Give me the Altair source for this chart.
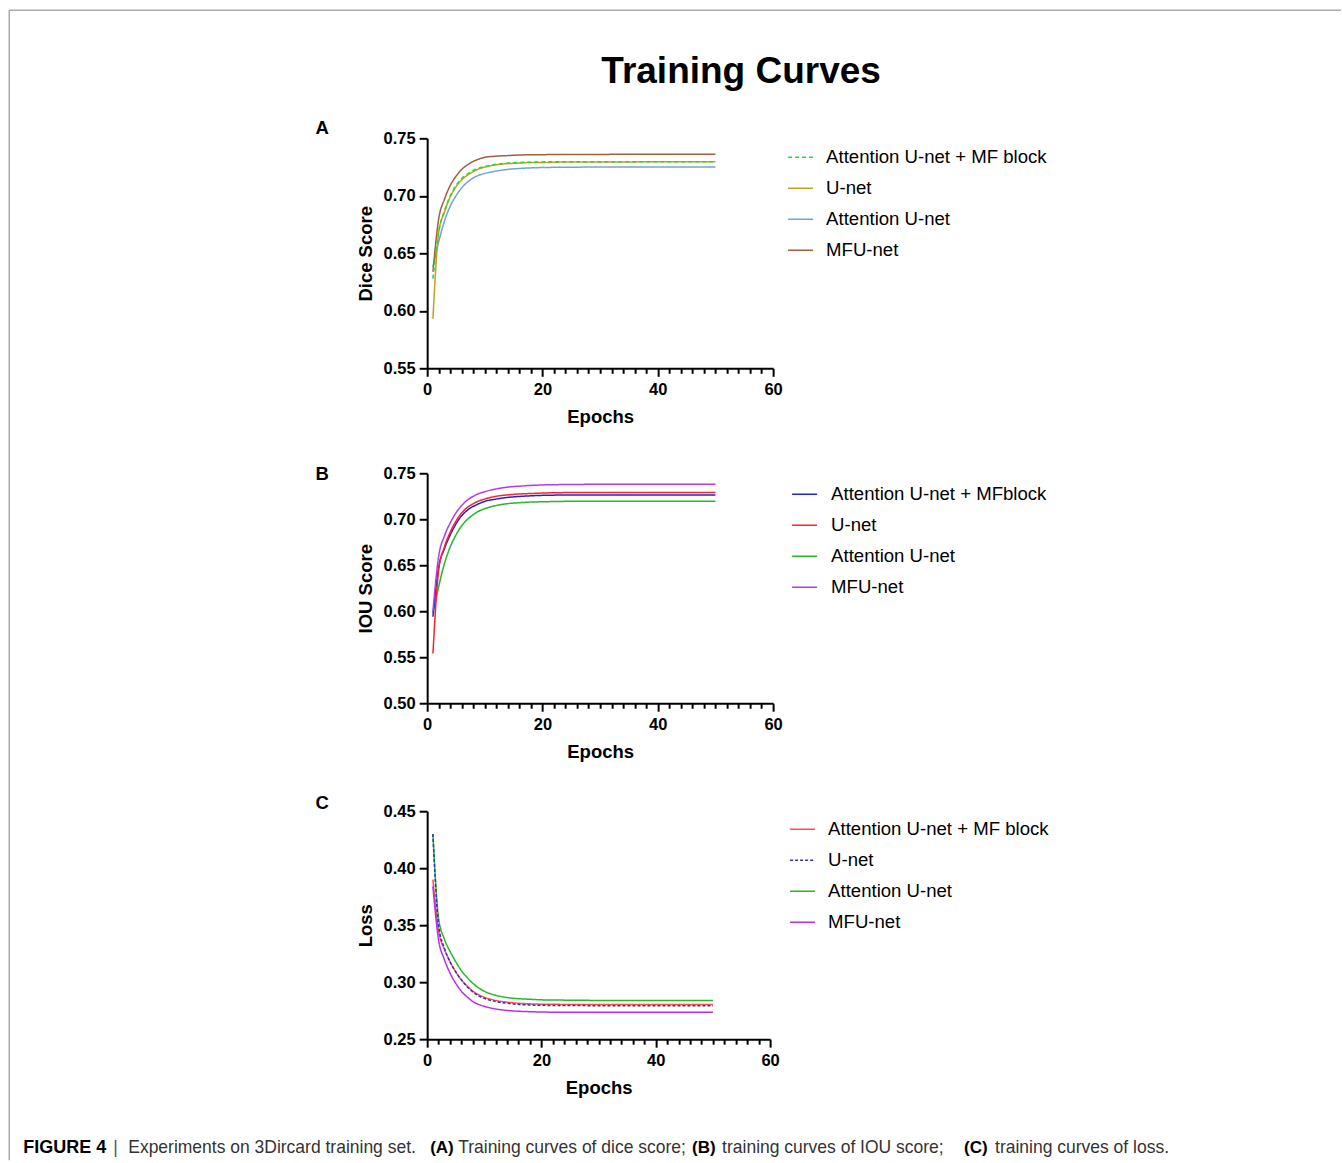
import altair as alt
import pandas as pd

FONT = "Liberation Sans"

# ---------------- data ----------------
epochs = [1, 2, 3, 4, 5, 6, 7, 8, 9, 10, 12, 14, 16, 18, 20, 25, 30, 35, 40, 45, 50]

# Panel A: Dice score
a_names = ["Attention U-net + MF block", "U-net", "Attention U-net", "MFU-net"]
a_attn_mf = [0.628, 0.669, 0.687, 0.700, 0.709, 0.715, 0.719, 0.722, 0.724, 0.7255, 0.7275,
             0.7285, 0.729, 0.7292, 0.7295, 0.7297, 0.7297, 0.7297, 0.7297, 0.7297, 0.7297]
a_unet = [0.593, 0.668, 0.686, 0.699, 0.708, 0.714, 0.718, 0.721, 0.7235, 0.725, 0.727,
          0.728, 0.7285, 0.729, 0.729, 0.7295, 0.7295, 0.7295, 0.7296, 0.7296, 0.7296]
a_attn = [0.638, 0.660, 0.678, 0.691, 0.700, 0.707, 0.712, 0.7155, 0.718, 0.7195, 0.7215,
          0.723, 0.7238, 0.7243, 0.7246, 0.7249, 0.725, 0.725, 0.725, 0.725, 0.725]
a_mfu = [0.634, 0.680, 0.697, 0.709, 0.717, 0.723, 0.727, 0.730, 0.732, 0.7335, 0.7345,
         0.735, 0.7355, 0.7357, 0.7358, 0.736, 0.736, 0.7362, 0.7362, 0.7361, 0.7361]
a_colors = ["#22dd22", "#c4a020", "#6fa3dc", "#a0603c"]

# Panel B: IOU score
b_names = ["Attention U-net + MFblock", "U-net", "Attention U-net", "MFU-net"]
b_attn_mf = [0.594, 0.648, 0.668, 0.683, 0.695, 0.704, 0.710, 0.714, 0.717, 0.7195, 0.722,
             0.7238, 0.7248, 0.7255, 0.726, 0.7264, 0.7265, 0.7265, 0.7265, 0.7265, 0.7265]
b_unet = [0.554, 0.645, 0.670, 0.686, 0.698, 0.707, 0.713, 0.717, 0.720, 0.722, 0.725,
          0.7265, 0.7275, 0.728, 0.7285, 0.729, 0.729, 0.729, 0.729, 0.729, 0.729]
b_attn = [0.598, 0.627, 0.652, 0.670, 0.683, 0.693, 0.700, 0.705, 0.709, 0.7115, 0.715,
          0.717, 0.718, 0.7187, 0.719, 0.7195, 0.7195, 0.7195, 0.7195, 0.7195, 0.7195]
b_mfu = [0.600, 0.660, 0.682, 0.696, 0.707, 0.715, 0.721, 0.725, 0.728, 0.730, 0.733,
         0.735, 0.736, 0.7368, 0.7373, 0.7378, 0.738, 0.738, 0.738, 0.738, 0.738]
b_colors = ["#2020dd", "#ff2222", "#22bb22", "#b23ce6"]

# Panel C: Loss
c_names = ["Attention U-net + MF block", "U-net", "Attention U-net", "MFU-net"]
c_attn_mf = [0.390, 0.345, 0.329, 0.318, 0.309, 0.302, 0.2965, 0.292, 0.289, 0.2868, 0.284,
             0.2825, 0.2815, 0.281, 0.2807, 0.2805, 0.2805, 0.2805, 0.2805, 0.2805, 0.2805]
c_unet = [0.430, 0.350, 0.330, 0.318, 0.309, 0.302, 0.296, 0.2915, 0.288, 0.2858, 0.283,
          0.2815, 0.2805, 0.280, 0.2797, 0.2795, 0.2794, 0.2794, 0.2794, 0.2794, 0.2794]
c_attn = [0.430, 0.356, 0.338, 0.327, 0.318, 0.310, 0.304, 0.299, 0.295, 0.292, 0.2885,
          0.2865, 0.2855, 0.285, 0.2845, 0.2842, 0.284, 0.284, 0.284, 0.284, 0.284]
c_mfu = [0.384, 0.337, 0.320, 0.308, 0.299, 0.292, 0.287, 0.283, 0.2805, 0.2788, 0.2765,
         0.2752, 0.2745, 0.2741, 0.2738, 0.2736, 0.2736, 0.2736, 0.2736, 0.2736, 0.2736]
c_colors = ["#ff4d4d", "#2f2fcc", "#22bb22", "#bb2bee"]

x_ticks = list(range(0, 61, 2))


def text_layer(txt, x, y, size, weight="bold", align="left", color="black"):
    return alt.Chart(pd.DataFrame({"t": [txt]})).mark_text(
        font=FONT, fontSize=size, fontWeight=weight, align=align,
        baseline="middle", color=color
    ).encode(text="t:N", x=alt.value(x), y=alt.value(y))


def panel(names, series, order, colors, dashes, ydom, yticks, ytitle, width, height,
          yrange, legend_x, legend_y, label_offset, extras):
    rows = []
    for name in order:
        for e, v in zip(epochs, series[name]):
            rows.append({"Epoch": e, "Value": v, "Model": name})
    df = pd.DataFrame(rows)
    leg = alt.Legend(
        title=None, orient="none", legendX=legend_x, legendY=legend_y,
        symbolType="stroke", symbolSize=625, symbolStrokeWidth=1.5,
        labelFont=FONT, labelFontSize=18.6, labelColor="black", labelLimit=0,
        labelOffset=label_offset, rowPadding=7, padding=0,
    )
    yscale = alt.Scale(domain=ydom, nice=False, zero=False)
    if yrange is not None:
        yscale = alt.Scale(domain=ydom, nice=False, zero=False, range=yrange)
    lines = alt.Chart(df).mark_line(strokeWidth=1.5, interpolate="monotone").encode(
        x=alt.X("Epoch:Q", scale=alt.Scale(domain=[0, 60], nice=False),
                axis=alt.Axis(values=x_ticks, title="Epochs",
                              labelExpr="datum.value % 20 == 0 ? datum.label : ''",
                              tickSize={"condition": {"test": "datum.value % 20 == 0", "value": 8}, "value": 5},
                              labelFlush=False, labelOverlap=False,
                              labelPadding=5, titlePadding=10)),
        y=alt.Y("Value:Q", scale=yscale,
                axis=alt.Axis(values=yticks, format=".2f", title=ytitle,
                              tickSize=8, labelPadding=4, titlePadding=8)),
        color=alt.Color("Model:N", scale=alt.Scale(domain=names, range=colors), legend=leg),
        strokeDash=alt.StrokeDash("Model:N", scale=alt.Scale(domain=names, range=dashes), legend=leg),
        detail="Model:N",
    )
    return alt.layer(lines, *extras).properties(width=width, height=height)


solid = [1, 0]

# Frame rules, title, panel label for A
rule_df = pd.DataFrame({"k": [0]})
frame_top = alt.Chart(rule_df).mark_rule(color="#aaaaaa", strokeWidth=1.5).encode(
    x=alt.value(-418), x2=alt.value(914), y=alt.value(-128))
frame_left = alt.Chart(rule_df).mark_rule(color="#aaaaaa", strokeWidth=1.5).encode(
    x=alt.value(-418), y=alt.value(-128), y2=alt.value(1022))

panel_a = panel(
    a_names,
    {a_names[0]: a_attn_mf, a_names[1]: a_unet, a_names[2]: a_attn, a_names[3]: a_mfu},
    [a_names[2], a_names[3], a_names[1], a_names[0]],
    a_colors, [[4, 3], solid, solid, solid],
    [0.55, 0.75], [0.55, 0.60, 0.65, 0.70, 0.75], "Dice Score", 346, 230, None,
    360, 5.5, 12,
    [frame_top, frame_left,
     text_layer("Training Curves", 314, -66, 37, align="center"),
     text_layer("A", -105, -10, 18.5, align="center")],
)

panel_b = panel(
    b_names,
    {b_names[0]: b_attn_mf, b_names[1]: b_unet, b_names[2]: b_attn, b_names[3]: b_mfu},
    [b_names[2], b_names[0], b_names[1], b_names[3]],
    b_colors, [solid, solid, solid, solid],
    [0.50, 0.75], [0.50, 0.55, 0.60, 0.65, 0.70, 0.75], "IOU Score", 346, 230, None,
    364, 7.5, 13,
    [text_layer("B", -105, 1, 18.5, align="center")],
)

cap_y = 340
cap_n = 17.5
cap_b = 17
panel_c = panel(
    c_names,
    {c_names[0]: c_attn_mf, c_names[1]: c_unet, c_names[2]: c_attn, c_names[3]: c_mfu},
    [c_names[2], c_names[0], c_names[3], c_names[1]],
    c_colors, [solid, [3, 2], solid, solid],
    [0.25, 0.45], [0.25, 0.30, 0.35, 0.40, 0.45], "Loss", 343, 231, [231, 3],
    362, 7.5, 12,
    [text_layer("C", -105, -5, 18.5, align="center"),
     text_layer("FIGURE 4", -404, cap_y, 18),
     text_layer("|", -314, cap_y, cap_n, weight="normal", color="#555555"),
     text_layer("Experiments on 3Dircard training set.", -299, cap_y, cap_n, weight="normal", color="#333333"),
     text_layer("(A)", 3, cap_y, cap_b),
     text_layer("Training curves of dice score;", 31, cap_y, cap_n, weight="normal", color="#333333"),
     text_layer("(B)", 265, cap_y, cap_b),
     text_layer("training curves of IOU score;", 295, cap_y, cap_n, weight="normal", color="#333333"),
     text_layer("(C)", 537, cap_y, cap_b),
     text_layer("training curves of loss.", 568, cap_y, cap_n, weight="normal", color="#333333")],
)

chart = alt.vconcat(panel_a, panel_b, panel_c, spacing=105, bounds="flush").resolve_scale(
    color="independent", strokeDash="independent", x="independent", y="independent"
).configure_view(strokeWidth=0).configure_axis(
    domainColor="black", domainWidth=2, tickColor="black", tickWidth=2,
    labelFont=FONT, labelFontSize=16.5, labelFontWeight="bold", labelColor="black",
    titleFont=FONT, titleFontSize=18.5, titleFontWeight="bold", titleColor="black",
    grid=False,
).properties(
    padding={"left": 8.25, "top": 9.25, "right": 0, "bottom": 0},
    background="white",
)

chart.save("out.html", embed_options={"renderer": "svg", "actions": False})
